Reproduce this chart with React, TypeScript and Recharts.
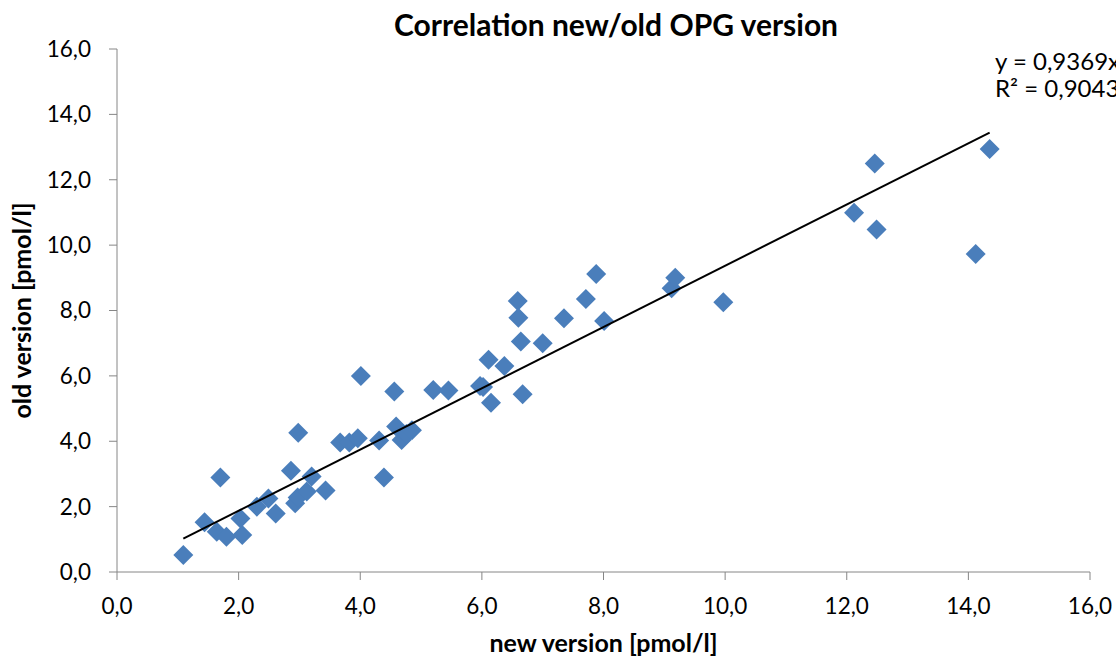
import React from 'react';
import { ScatterChart, Scatter, XAxis, YAxis } from 'recharts';

// readings from the two OPG assay versions (pmol/l)
const newVersion = [
  1.09, 1.44, 1.64, 1.7, 1.8, 2.03, 2.06, 2.3, 2.49, 2.61, 2.86, 2.98, 2.93, 2.97, 3.12, 3.2, 3.43,
  3.67, 3.82, 3.96, 4.01, 4.31, 4.39, 4.56, 4.59, 4.68, 4.76, 4.85, 5.2, 5.45, 5.97, 6.02, 6.11,
  6.15, 6.37, 6.59, 6.6, 6.64, 6.67, 7.0, 7.35, 7.71, 7.88, 8.01, 9.12, 9.18, 9.97, 12.12, 12.46,
  12.49, 14.12, 14.35,
];
const oldVersion = [
  0.52, 1.52, 1.23, 2.89, 1.08, 1.64, 1.13, 2.0, 2.25, 1.79, 3.1, 4.26, 2.1, 2.28, 2.46, 2.92, 2.49,
  3.96, 3.96, 4.09, 6.0, 4.02, 2.89, 5.52, 4.45, 4.04, 4.22, 4.34, 5.57, 5.55, 5.69, 5.66, 6.49,
  5.18, 6.3, 8.29, 7.78, 7.05, 5.44, 7.0, 7.76, 8.35, 9.12, 7.68, 8.68, 9.0, 8.25, 10.99, 12.5,
  10.48, 9.73, 12.94,
];
const axisTicks = [0, 2, 4, 6, 8, 10, 12, 14, 16];

const slope = 0.9369;
const r2 = '0,9043';

const points = newVersion.map((x, i) => ({ x, y: oldVersion[i] }));
const xMin = Math.min(...newVersion);
const xMax = Math.max(...newVersion);
const trend = [
  { x: xMin, y: slope * xMin },
  { x: xMax, y: slope * xMax },
];

const FONT = 'Lato, "DejaVu Sans", sans-serif';
const fmt = (v: number) => v.toFixed(1).replace('.', ',');

const Diamond = (props: any) => {
  const { cx, cy } = props;
  const r = 10;
  return <path d={`M${cx},${cy - r}L${cx + r},${cy}L${cx},${cy + r}L${cx - r},${cy}Z`} fill="#4A7EBB" />;
};

const App: React.FC = () => {
  return (
    <div
      style={{
        position: 'absolute',
        left: 0,
        top: 0,
        width: 1116,
        height: 659,
        overflow: 'hidden',
        background: '#fff',
        fontFamily: FONT,
      }}
    >
      <div
        style={{
          position: 'absolute',
          left: 0,
          width: 1232,
          top: 7,
          textAlign: 'center',
          fontSize: 30,
          fontWeight: 700,
          color: '#000',
          lineHeight: '34px',
        }}
      >
        Correlation new/old OPG version
      </div>
      <div
        style={{
          position: 'absolute',
          left: 995,
          top: 47,
          fontSize: 24,
          lineHeight: '27px',
          color: '#000',
          whiteSpace: 'nowrap',
        }}
      >
        y = {slope.toFixed(4).replace('.', ',')}x
        <br />
        R² = {r2}
      </div>
      <ScatterChart width={1116} height={659} margin={{ top: 49, right: 26, left: 0, bottom: 0 }}>
        <XAxis
          type="number"
          dataKey="x"
          domain={[0, 16]}
          ticks={axisTicks}
          tickFormatter={fmt}
          height={87}
          tickSize={8}
          tickMargin={18}
          stroke="#868686"
          tick={{ fill: '#000', fontSize: 22.5, fontFamily: FONT }}
          label={{
            value: 'new version [pmol/l]',
            position: 'insideBottom',
            offset: 7,
            style: { fontSize: 25, fontWeight: 700, fill: '#000', fontFamily: FONT },
          }}
        />
        <YAxis
          type="number"
          dataKey="y"
          domain={[0, 16]}
          ticks={axisTicks}
          tickFormatter={fmt}
          width={117}
          tickSize={8}
          tickMargin={18}
          stroke="#868686"
          tick={{ fill: '#000', fontSize: 22.5, fontFamily: FONT }}
          label={{
            value: 'old version [pmol/l]',
            angle: -90,
            position: 'insideLeft',
            offset: 22,
            style: { fontSize: 25, fontWeight: 700, fill: '#000', fontFamily: FONT, textAnchor: 'middle' },
          }}
        />
        <Scatter data={points} shape={Diamond} isAnimationActive={false} />
        <Scatter
          data={trend}
          line={{ stroke: '#000', strokeWidth: 2 }}
          shape={() => <g />}
          isAnimationActive={false}
        />
      </ScatterChart>
    </div>
  );
};

export default App;
